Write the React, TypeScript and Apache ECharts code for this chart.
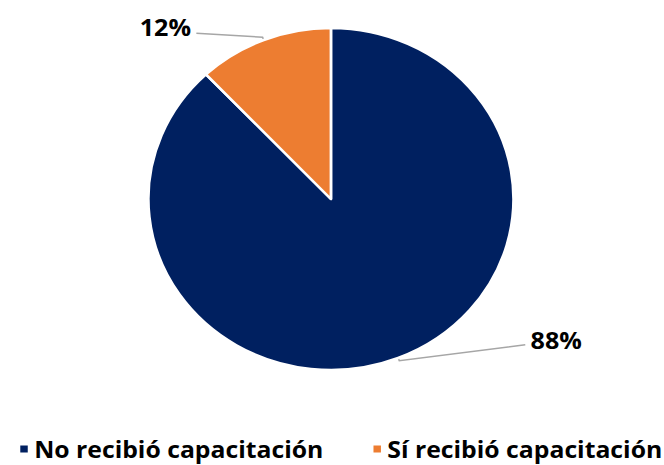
import React, { useEffect, useRef } from "react";
import * as echarts from "echarts";

const categories = ["No recibió capacitación", "Sí recibió capacitación"];
const values = [88, 12];
const colors = ["#002060", "#ED7D31"];
const lineLengths2 = [118, 62];
const labelShiftY = [-21, -10];
const lineEndShiftY = [-16, -4];

const SCALE_X = 664 / 622;

export default function App() {
  const ref = useRef<HTMLDivElement>(null);
  useEffect(() => {
    if (!ref.current) return;
    const chart = echarts.init(ref.current, null, { renderer: "svg" });
    const font = "'Open Sans', 'Noto Sans', sans-serif";
    chart.setOption({
      animation: false,
      color: colors,
      legend: {
        data: categories,
        left: 17,
        top: 437,
        width: 660,
        icon: "rect",
        itemWidth: 9,
        itemHeight: 9,
        itemGap: 45,
        padding: 0,
        textStyle: {
          fontSize: 23.2,
          fontWeight: "bold",
          color: "#000",
          fontFamily: font,
          lineHeight: 24,
        },
      },
      series: [
        {
          type: "pie",
          center: [310, 199],
          radius: 171,
          startAngle: 90,
          clockwise: true,
          itemStyle: { borderColor: "#fff", borderWidth: 2.5 },
          label: {
            show: true,
            position: "outside",
            formatter: (p: any) => p.value + "%",
            fontSize: 23.5,
            fontWeight: "bold",
            color: "#000",
            fontFamily: font,
            distanceToLabelLine: 5,
          },
          labelLine: {
            show: true,
            length: 3,
            lineStyle: { color: "#A6A6A6", width: 1.5 },
          },
          labelLayout: (p: any) => {
            const i = p.dataIndex;
            const pts = p.labelLinePoints;
            const out: any = { dy: labelShiftY[i] };
            if (pts && pts.length === 3) {
              out.labelLinePoints = [
                pts[0],
                pts[1],
                [pts[2][0], pts[2][1] + lineEndShiftY[i]],
              ];
            }
            return out;
          },
          emphasis: { disabled: true },
          data: categories.map((name, i) => ({
            name,
            value: values[i],
            labelLine: { length2: lineLengths2[i] },
          })),
        },
      ],
    });
    return () => chart.dispose();
  }, []);
  return (
    <div
      ref={ref}
      style={{
        position: "absolute",
        left: 0,
        top: 0,
        width: 622,
        height: 465,
        transform: `scaleX(${SCALE_X})`,
        transformOrigin: "0 0",
        background: "#fff",
      }}
    />
  );
}
